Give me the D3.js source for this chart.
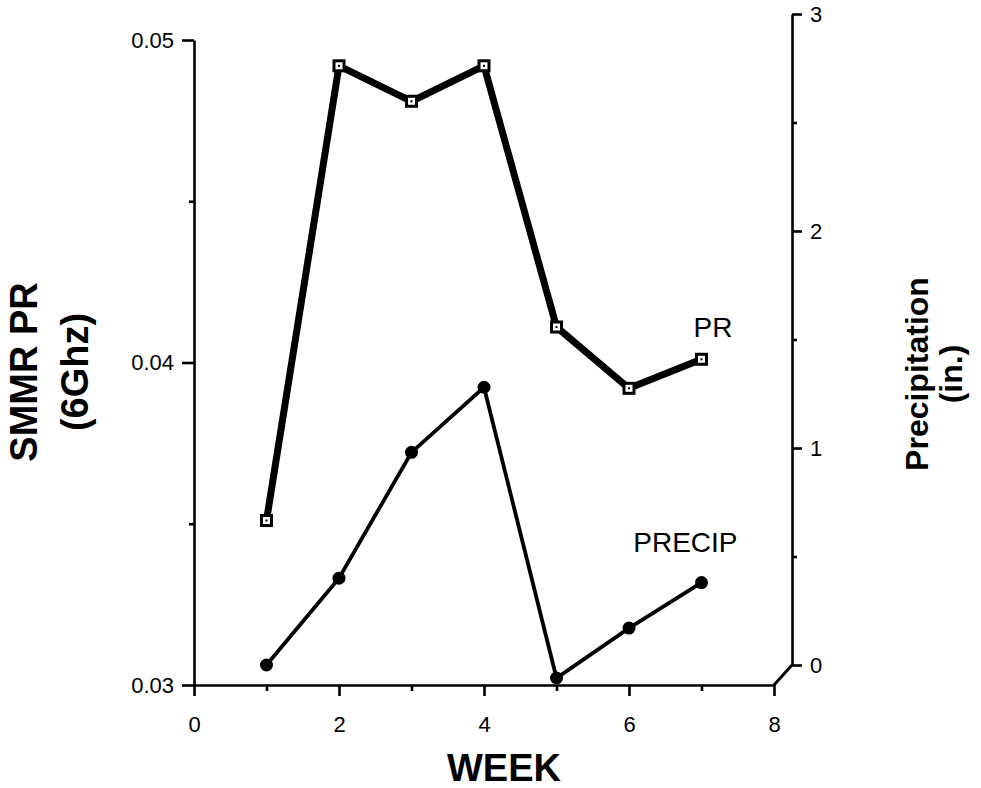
<!DOCTYPE html>
<html>
<head>
<meta charset="utf-8">
<script src="https://cdn.jsdelivr.net/npm/d3@7"></script>
<style>
  body { margin: 0; background: #fff; }
  svg { display: block; font-family: 'Liberation Sans', Arial, Helvetica, sans-serif; }
  .axis path, .axis line { stroke: #000; stroke-width: 2.6; }
  .axis text { font-size: 22px; fill: #000; font-family: 'Liberation Sans', Arial, sans-serif; }
  .title { font-size: 38px; font-weight: bold; fill: #000; }
</style>
</head>
<body>
<div id="chart"></div>
<script>
const weeks = [1, 2, 3, 4, 5, 6, 7]
const prValues = [0.0351, 0.0492, 0.0481, 0.0492, 0.0411, 0.0392, 0.0401]
const precipValues = [0.0, 0.40, 0.98, 1.28, -0.06, 0.17, 0.38]

const weekTicks = [0, 2, 4, 6, 8]
const weekMinorTicks = [1, 3, 5, 7]
const prTicks = [0.03, 0.04, 0.05]
const prMinorTicks = [0.035, 0.045]
const precipTicks = [0, 1, 2, 3]
const precipMinorTicks = [0.5, 1.5, 2.5]

const width = 981
const height = 788

const svg = d3
  .select('#chart')
  .append('svg')
  .attr('width', width)
  .attr('height', height)

// Scales
const xPositionScale = d3.scaleLinear().domain([0, 8]).range([194, 774])
const prScale = d3.scaleLinear().domain([0.03, 0.05]).range([685, 40])
const precipScale = d3.scaleLinear().domain([0, 3]).range([665, 14])
const rightX = 792

// Axes
const xAxis = d3.axisBottom(xPositionScale)
  .tickValues(weekTicks).tickFormat(d3.format('d'))
  .tickSize(11).tickSizeOuter(0).tickPadding(20)
const xMinor = d3.axisBottom(xPositionScale)
  .tickValues(weekMinorTicks).tickFormat('')
  .tickSize(6).tickSizeOuter(0)

svg.append('g').attr('class', 'axis x-axis')
  .attr('transform', 'translate(0,' + prScale(0.03) + ')')
  .call(xAxis)
svg.append('g').attr('class', 'axis')
  .attr('transform', 'translate(0,' + prScale(0.03) + ')')
  .call(xMinor)
  .select('.domain').remove()

const yAxis = d3.axisLeft(prScale)
  .tickValues(prTicks).tickFormat(d3.format('.2f'))
  .tickSize(12).tickSizeOuter(0).tickPadding(8)
const yMinor = d3.axisLeft(prScale)
  .tickValues(prMinorTicks).tickFormat('')
  .tickSize(5).tickSizeOuter(0)

svg.append('g').attr('class', 'axis')
  .attr('transform', 'translate(' + xPositionScale(0) + ',0)')
  .call(yAxis)
svg.append('g').attr('class', 'axis')
  .attr('transform', 'translate(' + xPositionScale(0) + ',0)')
  .call(yMinor)
  .select('.domain').remove()

const rAxis = d3.axisRight(precipScale)
  .tickValues(precipTicks).tickFormat(d3.format('d'))
  .tickSize(10).tickSizeOuter(0).tickPadding(8)
const rMinor = d3.axisRight(precipScale)
  .tickValues(precipMinorTicks).tickFormat('')
  .tickSize(5).tickSizeOuter(0)

svg.append('g').attr('class', 'axis')
  .attr('transform', 'translate(' + rightX + ',0)')
  .call(rAxis)
svg.append('g').attr('class', 'axis')
  .attr('transform', 'translate(' + rightX + ',0)')
  .call(rMinor)
  .select('.domain').remove()

// little slanted joint between x axis end and the right axis
svg.append('line')
  .attr('x1', xPositionScale(8)).attr('y1', prScale(0.03))
  .attr('x2', rightX).attr('y2', precipScale(0))
  .attr('stroke', '#000').attr('stroke-width', 3)

// Lines
const prData = weeks.map((w, i) => ({ week: w, value: prValues[i] }))
const precipData = weeks.map((w, i) => ({ week: w, value: precipValues[i] }))

const prLine = d3.line().x(d => xPositionScale(d.week)).y(d => prScale(d.value))
const precipLine = d3.line().x(d => xPositionScale(d.week)).y(d => precipScale(d.value))

svg.append('path')
  .datum(precipData)
  .attr('d', precipLine)
  .attr('fill', 'none')
  .attr('stroke', '#000')
  .attr('stroke-width', 3.8)

svg.selectAll('.precip-dot')
  .data(precipData)
  .enter()
  .append('circle')
  .attr('class', 'precip-dot')
  .attr('cx', d => xPositionScale(d.week))
  .attr('cy', d => precipScale(d.value))
  .attr('r', 6.5)
  .attr('fill', '#000')

svg.append('path')
  .datum(prData)
  .attr('d', prLine)
  .attr('fill', 'none')
  .attr('stroke', '#000')
  .attr('stroke-width', 7)
  .attr('stroke-linejoin', 'round')

const markers = svg.selectAll('.pr-marker')
  .data(prData)
  .enter()
  .append('g')
  .attr('class', 'pr-marker')
  .attr('transform', d => 'translate(' + xPositionScale(d.week) + ',' + prScale(d.value) + ')')

markers.append('rect').attr('x', -6.5).attr('y', -6.5).attr('width', 13).attr('height', 13).attr('fill', '#000')
markers.append('rect').attr('x', -3.5).attr('y', -3.5).attr('width', 7).attr('height', 7).attr('fill', '#fff')
markers.append('rect').attr('x', -1).attr('y', -1).attr('width', 2).attr('height', 2).attr('fill', '#000')

// Series labels
svg.append('text')
  .text('PR')
  .attr('x', xPositionScale(7) + 31)
  .attr('y', prScale(0.0401) - 22)
  .attr('text-anchor', 'end')
  .attr('font-size', 28)
  .attr('fill', '#000')

svg.append('text')
  .text('PRECIP')
  .attr('x', xPositionScale(7) + 36)
  .attr('y', precipScale(0.38) - 31)
  .attr('text-anchor', 'end')
  .attr('font-size', 28)
  .attr('fill', '#000')

// Axis titles
svg.append('text')
  .attr('class', 'title')
  .text('WEEK')
  .attr('x', 504)
  .attr('y', 781)
  .attr('text-anchor', 'middle')
  .attr('font-size', 36)

const leftTitle = svg.append('text')
  .attr('class', 'title')
  .attr('text-anchor', 'middle')
  .attr('transform', 'translate(37,372) rotate(-90)')
leftTitle.append('tspan').attr('x', 0).attr('y', 0).text('SMMR PR')
leftTitle.append('tspan').attr('x', 0).attr('y', 51).text('(6Ghz)')

const rightTitle = svg.append('text')
  .attr('class', 'title')
  .attr('text-anchor', 'middle')
  .style('font-size', '32px')
  .attr('transform', 'translate(928,374) rotate(-90)')
rightTitle.append('tspan').attr('x', 0).attr('y', 0).text('Precipitation')
rightTitle.append('tspan').attr('x', 0).attr('y', 34).text('(in.)')
</script>
</body>
</html>
